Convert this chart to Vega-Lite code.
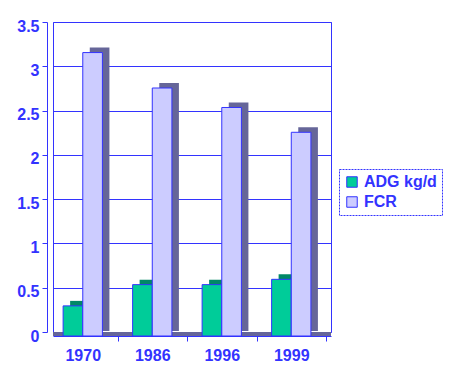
{
  "$schema": "https://vega.github.io/schema/vega-lite/v6.json",
  "autosize": {"type": "none"},
  "padding": {"left": 53, "top": 22, "right": 119, "bottom": 51},
  "width": 278,
  "height": 310,
  "background": "white",
  "config": {
    "view": {"stroke": "#3333ff", "strokeWidth": 1},
    "font": "Liberation Sans"
  },
  "data": {
    "values": [
      {"year": "1970", "series": "ADG kg/d", "value": 0.34},
      {"year": "1970", "series": "FCR", "value": 3.2},
      {"year": "1986", "series": "ADG kg/d", "value": 0.58},
      {"year": "1986", "series": "FCR", "value": 2.8},
      {"year": "1996", "series": "ADG kg/d", "value": 0.58},
      {"year": "1996", "series": "FCR", "value": 2.58},
      {"year": "1999", "series": "ADG kg/d", "value": 0.64},
      {"year": "1999", "series": "FCR", "value": 2.3}
    ]
  },
  "resolve": {"scale": {"xOffset": "independent"}},
  "layer": [
    {
      "mark": {"type": "rule", "color": "#666699", "strokeWidth": 4, "yOffset": 2},
      "encoding": {"y": {"datum": 0, "type": "quantitative"}}
    },
    {
      "mark": {"type": "bar", "yOffset": -1},
      "encoding": {
        "x": {"field": "year", "type": "nominal"},
        "xOffset": {"field": "series", "type": "nominal", "scale": {"range": [2, 41.3]}},
        "y": {"field": "value", "type": "quantitative"},
        "color": {
          "condition": {"test": "datum.series == 'FCR'", "value": "#666699"},
          "value": "#008866"
        }
      }
    },
    {
      "mark": {"type": "bar", "yOffset": 4, "stroke": "#3333ff", "strokeWidth": 1},
      "encoding": {
        "x": {
          "field": "year",
          "type": "nominal",
          "scale": {"paddingInner": 0.435, "paddingOuter": 0.2175},
          "axis": {
            "title": null,
            "labelAngle": 0,
            "labelAlign": "center",
            "offset": 4,
            "bandPosition": 0.5,
            "tickSize": 5,
            "tickOffset": 29.75,
            "labelOffset": -34.75,
            "tickColor": "#3333ff",
            "domainColor": "#3333ff",
            "labelColor": "#3333ff",
            "labelFont": "Liberation Sans",
            "labelFontWeight": "bold",
            "labelFontSize": 16,
            "labelPadding": 14
          }
        },
        "xOffset": {"field": "series", "type": "nominal", "scale": {"range": [-5, 34.3]}},
        "y": {
          "field": "value",
          "type": "quantitative",
          "scale": {"domain": [0, 3.5], "nice": false},
          "axis": {
            "title": null,
            "values": [0, 0.5, 1, 1.5, 2, 2.5, 3, 3.5],
            "format": "~g",
            "offset": 6,
            "labelOffset": 4,
            "grid": true,
            "gridColor": "#3333ff",
            "tickSize": 5,
            "tickColor": "#3333ff",
            "domainColor": "#3333ff",
            "labelColor": "#3333ff",
            "labelFont": "Liberation Sans",
            "labelFontWeight": "bold",
            "labelFontSize": 16,
            "labelPadding": 3
          }
        },
        "color": {
          "field": "series",
          "type": "nominal",
          "scale": {"domain": ["ADG kg/d", "FCR"], "range": ["#00cc99", "#ccccff"]},
          "legend": {
            "title": null,
            "orient": "none",
            "legendX": 286,
            "legendY": 147,
            "strokeColor": "#3333ff",
            "padding": 5,
            "symbolType": "square",
            "symbolSize": 110,
            "symbolStrokeColor": "#3333ff",
            "symbolStrokeWidth": 1,
            "labelColor": "#3333ff",
            "labelFont": "Liberation Sans",
            "labelFontWeight": "bold",
            "labelFontSize": 16,
            "rowPadding": 4,
            "encode": {"legend": {"update": {"strokeDash": {"value": [2, 1]}}}}
          }
        }
      }
    }
  ]
}
